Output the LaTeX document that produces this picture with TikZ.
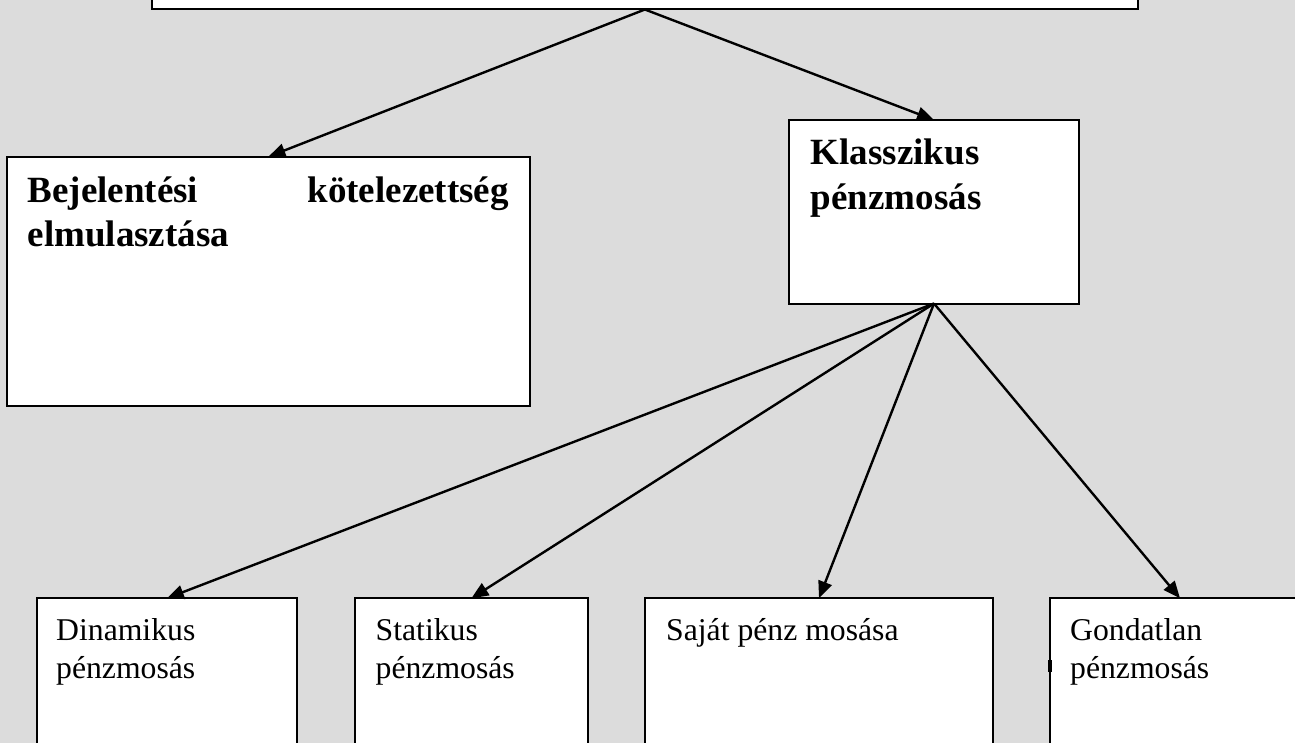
\documentclass[tikz,border=0pt]{standalone}
\usepackage{fontspec}
\setmainfont{Liberation Serif}
\usetikzlibrary{arrows.meta}
\definecolor{bg}{RGB}{220,220,220}
\begin{document}
\begin{tikzpicture}[x=1pt,y=-1pt,
  box/.style={draw=black,fill=white,line width=2pt,inner sep=0pt,outer sep=0pt,rectangle,anchor=north west},
  arr/.style={line width=2.4pt,-{Triangle[length=17pt,width=14pt]}},
  boldtxt/.style={font=\fontsize{37}{45}\selectfont\bfseries,inner sep=0pt,anchor=base west},
  regtxt/.style={font=\fontsize{31.7}{38}\selectfont,inner sep=0pt,anchor=base west}]
\fill[bg] (0,0) rectangle (1295,743);
\useasboundingbox (0,0) rectangle (1295,743);
\clip (0,0) rectangle (1295,743);
% boxes
\node[box,minimum width=985.2pt,minimum height=60pt] (top) at (152.3,-50.5) {};
\node[box,minimum width=522.3pt,minimum height=249pt] (bej) at (7.3,156.7) {};
\node[box,minimum width=290pt,minimum height=183.5pt] (kla) at (789,120) {};
\node[box,minimum width=260.3pt,minimum height=200pt] (din) at (36.7,598.3) {};
\node[box,minimum width=232.8pt,minimum height=200pt] (sta) at (355,598.3) {};
\node[box,minimum width=348pt,minimum height=200pt] (saj) at (645,598.3) {};
\node[box,minimum width=260pt,minimum height=200pt] (gon) at (1050,598.3) {};
\fill (1048.4,660) rectangle (1051.8,672);
% connectors
\draw[arr] (top.south) -- (bej.north);
\draw[arr] (top.south) -- (kla.north);
\draw[arr] (kla.south) -- (din.north);
\draw[arr] (kla.south) -- (sta.north);
\draw[arr] (kla.south) -- (saj.north);
\draw[arr] (kla.south) -- (gon.north);
% texts
\node[boldtxt] (t1a) at (27.5,203) {Bejelentési};
\node[boldtxt,anchor=base east] (t1b) at (509,203) {kötelezettség};
\node[boldtxt] (t1c) at (27.5,247) {elmulasztása};
\node[boldtxt] (t2a) at (810.7,165) {Klasszikus};
\node[boldtxt] (t2b) at (810.7,210) {pénzmosás};
\node[regtxt] (t3a) at (56,640) {Dinamikus};
\node[regtxt] (t3b) at (56,678) {pénzmosás};
\node[regtxt] (t4a) at (375.5,640) {Statikus};
\node[regtxt] (t4b) at (375.5,678) {pénzmosás};
\node[regtxt] (t5a) at (666,640) {Saját pénz mosása};
\node[regtxt] (t6a) at (1070,640) {Gondatlan};
\node[regtxt] (t6b) at (1070,678) {pénzmosás};
\end{tikzpicture}
\end{document}
